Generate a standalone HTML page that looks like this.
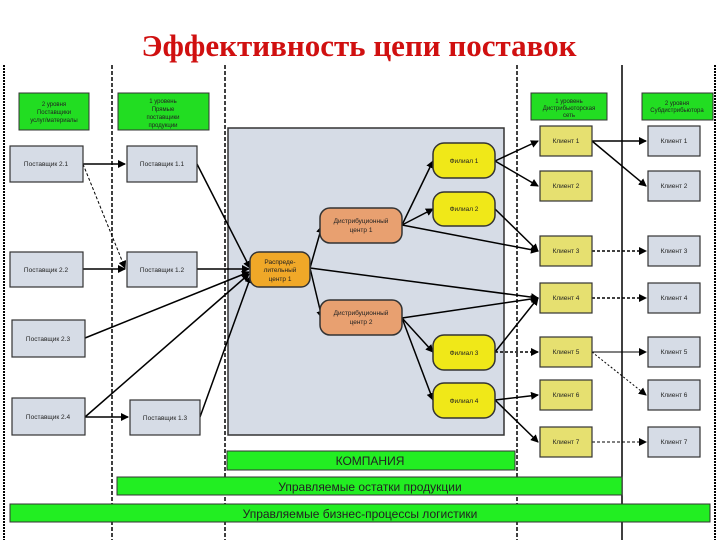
<!DOCTYPE html>
<html><head><meta charset="utf-8"><style>
html,body{margin:0;padding:0;background:#fff;width:720px;height:540px;overflow:hidden}
svg text{font-family:"Liberation Sans",sans-serif;fill:#222}
</style></head><body>
<svg width="720" height="540" viewBox="0 0 720 540" xmlns="http://www.w3.org/2000/svg">
<defs>
<marker id="a" markerWidth="8" markerHeight="8" refX="7" refY="4" orient="auto" markerUnits="userSpaceOnUse"><path d="M0,0 L8,4 L0,8z" fill="#000"/></marker>
</defs>
<text x="359" y="56" text-anchor="middle" style="font-family:'Liberation Serif',serif;font-size:31px;font-weight:bold;fill:#d01010">Эффективность цепи поставок</text>
<g stroke="#000">
<line x1="4" y1="65" x2="4" y2="540" stroke-width="2" stroke-dasharray="2,1"/>
<line x1="112" y1="65" x2="112" y2="540" stroke-width="1.5" stroke-dasharray="4,2"/>
<line x1="225" y1="65" x2="225" y2="540" stroke-width="1.5" stroke-dasharray="4,2"/>
<line x1="517" y1="65" x2="517" y2="540" stroke-width="1.5" stroke-dasharray="4,2"/>
<line x1="622" y1="65" x2="622" y2="540" stroke-width="1.5"/>
<line x1="715" y1="65" x2="715" y2="540" stroke-width="2" stroke-dasharray="2,1"/>
</g>
<rect x="228" y="128" width="276" height="307" fill="#d6dce6" stroke="#333" stroke-width="1.5"/>
<g fill="#22dd22" stroke="#333">
<rect x="19" y="93" width="70" height="37"/><rect x="118" y="93" width="91" height="37"/>
<rect x="531" y="93" width="76" height="27"/><rect x="642" y="93" width="71" height="27"/>
</g>
<g font-size="6" text-anchor="middle">
<text x="54" y="106">2 уровня</text><text x="54" y="114">Поставщики</text><text x="54" y="122">услуг/материалы</text>
<text x="163" y="103">1 уровень</text><text x="163" y="111">Прямые</text><text x="163" y="119">поставщики</text><text x="163" y="127">продукции</text>
<text x="569" y="103">1 уровень</text><text x="569" y="110">Дистрибьюторская</text><text x="569" y="117">сеть</text>
<text x="677" y="105">2 уровня</text><text x="677" y="112">Субдистрибьютора</text>
</g>
<g stroke="#000" stroke-width="1.5" fill="none" marker-end="url(#a)">
<line x1="83" y1="164" x2="125" y2="164"/>
<line x1="83" y1="164" x2="125" y2="268" stroke-dasharray="3,2" stroke-width="1"/>
<line x1="83" y1="269" x2="125" y2="269"/>
<line x1="197" y1="164" x2="250" y2="268"/>
<line x1="197" y1="269" x2="249" y2="269"/>
<line x1="85" y1="338" x2="249" y2="272"/>
<line x1="85" y1="417" x2="249" y2="274"/>
<line x1="85" y1="417" x2="128" y2="417"/>
<line x1="200" y1="417" x2="251" y2="276"/>
<line x1="310" y1="268" x2="322" y2="226"/>
<line x1="310" y1="268" x2="322" y2="318"/>
<line x1="310" y1="268" x2="538" y2="298"/>
<line x1="402" y1="225" x2="433" y2="161"/>
<line x1="402" y1="225" x2="433" y2="209"/>
<line x1="402" y1="225" x2="538" y2="251"/>
<line x1="402" y1="318" x2="538" y2="298"/>
<line x1="402" y1="318" x2="433" y2="352"/>
<line x1="402" y1="318" x2="433" y2="400"/>
<line x1="495" y1="161" x2="538" y2="141"/>
<line x1="495" y1="161" x2="538" y2="186"/>
<line x1="495" y1="209" x2="538" y2="251"/>
<line x1="495" y1="352" x2="538" y2="298"/>
<line x1="495" y1="352" x2="538" y2="352" stroke-dasharray="3,2"/>
<line x1="495" y1="400" x2="538" y2="395"/>
<line x1="495" y1="400" x2="538" y2="442"/>
<line x1="592" y1="141" x2="646" y2="141"/>
<line x1="592" y1="141" x2="646" y2="186"/>
<line x1="592" y1="251" x2="646" y2="251" stroke-dasharray="3,2"/>
<line x1="592" y1="298" x2="646" y2="298" stroke-dasharray="3,2"/>
<line x1="592" y1="352" x2="646" y2="352" stroke-width="1"/>
<line x1="592" y1="352" x2="646" y2="395" stroke-dasharray="2,2" stroke-width="1"/>
<line x1="592" y1="442" x2="646" y2="442" stroke-dasharray="3,2" stroke-width="1"/>
</g>
<g fill="#d6dce6" stroke="#333" stroke-width="1.2">
<rect x="10" y="146" width="73" height="36"/><rect x="127" y="146" width="70" height="36"/>
<rect x="10" y="252" width="73" height="35"/><rect x="127" y="252" width="70" height="35"/>
<rect x="12" y="320" width="73" height="37"/><rect x="12" y="398" width="73" height="37"/>
<rect x="130" y="400" width="70" height="35"/>
<rect x="648" y="126" width="52" height="30"/><rect x="648" y="171" width="52" height="30"/>
<rect x="648" y="236" width="52" height="30"/><rect x="648" y="283" width="52" height="30"/>
<rect x="648" y="337" width="52" height="30"/><rect x="648" y="380" width="52" height="30"/>
<rect x="648" y="427" width="52" height="30"/>
</g>
<g fill="#e6e070" stroke="#333" stroke-width="1.2">
<rect x="540" y="126" width="52" height="30"/><rect x="540" y="171" width="52" height="30"/>
<rect x="540" y="236" width="52" height="30"/><rect x="540" y="283" width="52" height="30"/>
<rect x="540" y="337" width="52" height="30"/><rect x="540" y="380" width="52" height="30"/>
<rect x="540" y="427" width="52" height="30"/>
</g>
<rect x="250" y="252" width="60" height="35" rx="9" fill="#f0a828" stroke="#333" stroke-width="1.5"/>
<rect x="320" y="208" width="82" height="35" rx="10" fill="#e8a070" stroke="#333" stroke-width="1.5"/>
<rect x="320" y="300" width="82" height="35" rx="10" fill="#e8a070" stroke="#333" stroke-width="1.5"/>
<g fill="#f0e818" stroke="#333" stroke-width="1.5">
<rect x="433" y="143" width="62" height="35" rx="11"/><rect x="433" y="192" width="62" height="34" rx="11"/>
<rect x="433" y="335" width="62" height="35" rx="11"/><rect x="433" y="383" width="62" height="35" rx="11"/>
</g>
<g font-size="6.5" text-anchor="middle">
<text x="46" y="166">Поставщик 2.1</text><text x="162" y="166">Поставщик 1.1</text>
<text x="46" y="272">Поставщик 2.2</text><text x="162" y="272">Поставщик 1.2</text>
<text x="48" y="341">Поставщик 2.3</text><text x="48" y="419">Поставщик 2.4</text>
<text x="165" y="420">Поставщик 1.3</text>
<text x="280" y="264">Распреде-</text><text x="280" y="272">лительный</text><text x="280" y="281">центр 1</text>
<text x="361" y="223">Дистрибуционный</text><text x="361" y="232">центр 1</text>
<text x="361" y="315">Дистрибуционный</text><text x="361" y="324">центр 2</text>
<text x="464" y="163">Филиал 1</text><text x="464" y="211">Филиал 2</text>
<text x="464" y="355">Филиал 3</text><text x="464" y="403">Филиал 4</text>
<text x="566" y="143">Клиент 1</text><text x="566" y="188">Клиент 2</text><text x="566" y="253">Клиент 3</text>
<text x="566" y="300">Клиент 4</text><text x="566" y="354">Клиент 5</text><text x="566" y="397">Клиент 6</text><text x="566" y="444">Клиент 7</text>
<text x="674" y="143">Клиент 1</text><text x="674" y="188">Клиент 2</text><text x="674" y="253">Клиент 3</text>
<text x="674" y="300">Клиент 4</text><text x="674" y="354">Клиент 5</text><text x="674" y="397">Клиент 6</text><text x="674" y="444">Клиент 7</text>
</g>
<g fill="#22ee22" stroke="#333" stroke-width="1">
<rect x="227" y="451" width="288" height="19"/>
<rect x="117" y="477" width="505" height="18"/>
<rect x="10" y="504" width="700" height="18"/>
</g>
<g font-size="12" text-anchor="middle">
<text x="370" y="465">КОМПАНИЯ</text>
<text x="370" y="491">Управляемые остатки продукции</text>
<text x="360" y="518">Управляемые бизнес-процессы логистики</text>
</g>
</svg>
</body></html>
